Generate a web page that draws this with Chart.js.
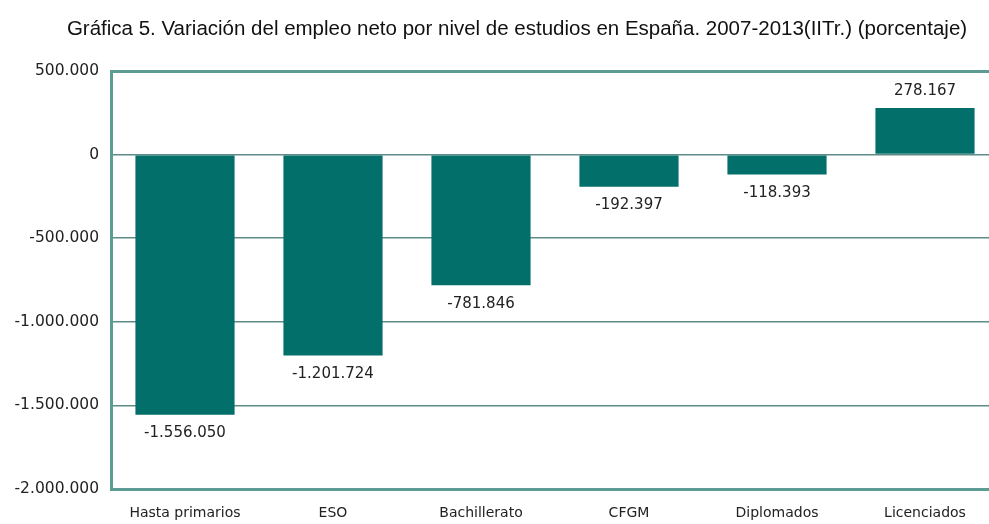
<!DOCTYPE html>
<html lang="es">
<head>
<meta charset="utf-8">
<title>Variación del empleo neto por nivel de estudios</title>
<script src="https://cdn.jsdelivr.net/npm/chart.js@4.4.1/dist/chart.umd.min.js"></script>
<style>
    html, body { margin: 0; padding: 0; background: #fff; overflow: hidden; }
    #wrap { position: relative; width: 1010px; height: 524px; }
</style>
</head>
<body>
<div id="wrap"><canvas id="empleoChart"></canvas></div>
<script>
const categorias = ["Hasta primarios", "ESO", "Bachillerato", "CFGM", "Diplomados", "Licenciados"];
const variacion = [-1556050, -1201724, -781846, -192397, -118393, 278167];
const ticksY = [500000, 0, -500000, -1000000, -1500000, -2000000];
const titulo = "Gráfica 5. Variación del empleo neto por nivel de estudios en España. 2007-2013(IITr.) (porcentaje)";

const TEAL = "#036f6b";
const FRAME = "#5c9c95";
const GRID = "#5f8c88";
const FONT = "'DejaVu Sans', Verdana, sans-serif";

// miles con punto, como en el original
function fmt(v) {
    const s = Math.abs(Math.round(v)).toString().replace(/\B(?=(\d{3})+(?!\d))/g, ".");
    return (v < 0 ? "-" : "") + s;
}

// título centrado sobre la imagen visible
const tituloPlugin = {
    id: "tituloPlugin",
    afterDraw(chart) {
        const { ctx } = chart;
        ctx.save();
        ctx.font = "20.5px 'Liberation Sans', Arial, sans-serif";
        ctx.fillStyle = "#111";
        ctx.textAlign = "center";
        ctx.textBaseline = "middle";
        ctx.fillText(titulo, 517, 29);
        ctx.restore();
    },
};

// etiquetas de valor encima / debajo de cada barra
const valueLabels = {
    id: "valueLabels",
    afterDatasetsDraw(chart) {
        const { ctx } = chart;
        const meta = chart.getDatasetMeta(0);
        ctx.save();
        ctx.font = "15px " + FONT;
        ctx.fillStyle = "#222";
        ctx.textAlign = "center";
        meta.data.forEach((bar, i) => {
            const v = variacion[i];
            if (v >= 0) {
                ctx.textBaseline = "bottom";
                ctx.fillText(fmt(v), bar.x, bar.y - 9);
            } else {
                ctx.textBaseline = "top";
                ctx.fillText(fmt(v), bar.x, bar.y + 11);
            }
        });
        ctx.restore();
    },
};

const canvas = document.getElementById("empleoChart");
new Chart(canvas.getContext("2d"), {
    type: "bar",
    data: {
        labels: categorias,
        datasets: [
            {
                data: variacion,
                backgroundColor: TEAL,
                borderWidth: 0,
                barPercentage: 0.67,
                categoryPercentage: 1,
            },
        ],
    },
    options: {
        responsive: true,
        maintainAspectRatio: false,
        animation: false,
        layout: { padding: { left: 0, right: 11, top: 71, bottom: 0 } },
        plugins: {
            legend: { display: false },
            tooltip: { enabled: false },
            title: { display: false },
        },
        scales: {
            x: {
                grid: { display: false },
                border: { display: false },
                afterFit(scale) {
                    scale.height = 35;
                },
                ticks: {
                    font: { family: FONT, size: 14 },
                    color: "#222",
                    padding: 8,
                    maxRotation: 0,
                },
            },
            y: {
                min: -2000000,
                max: 500000,
                afterBuildTicks(scale) {
                    scale.ticks = ticksY.map((v) => ({ value: v }));
                },
                afterFit(scale) {
                    scale.width = 111;
                },
                grid: {
                    drawTicks: false,
                    color: (c) => (c.index === 0 || c.index === ticksY.length - 1 ? FRAME : GRID),
                    lineWidth: (c) => (c.index === 0 || c.index === ticksY.length - 1 ? 3 : 1.6),
                },
                border: { display: true, color: FRAME, width: 3 },
                ticks: {
                    font: { family: FONT, size: 15.5 },
                    color: "#222",
                    padding: 12,
                    callback: (v) => fmt(v),
                },
            },
        },
    },
    plugins: [valueLabels, tituloPlugin],
});
</script>
</body>
</html>
